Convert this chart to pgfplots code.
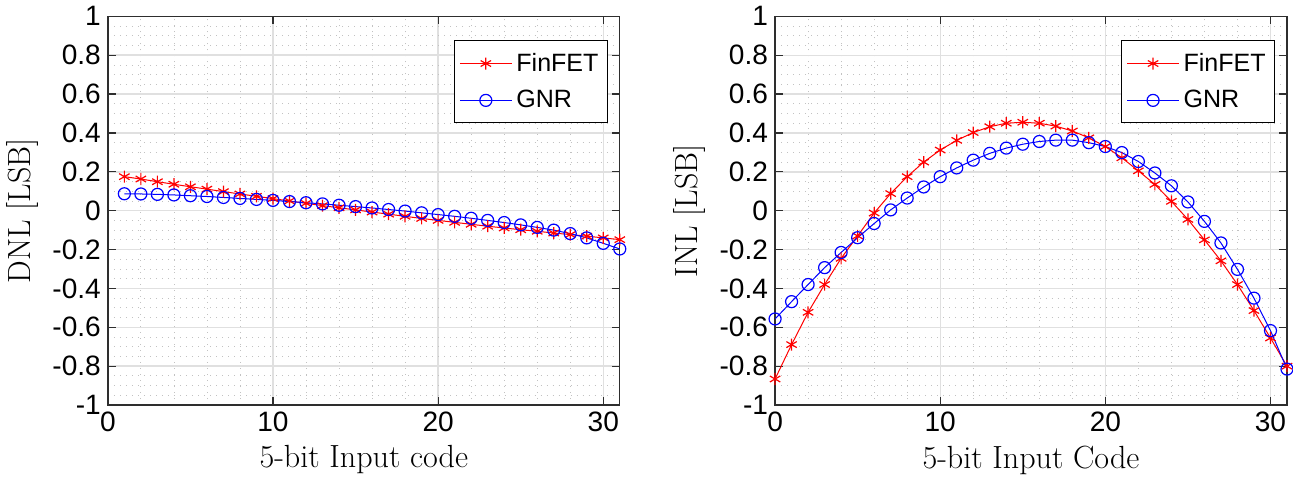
\documentclass[border=0pt]{standalone}
\usepackage{fontspec}
\setsansfont{Liberation Sans}
\usepackage{pgfplots}
\pgfplotsset{compat=1.18}

\definecolor{gridmaj}{gray}{0.88}
\definecolor{gridmin}{gray}{0.76}
\definecolor{axline}{gray}{0.18}

\pgfplotsset{
  matlab/.style={
    width=255.5pt, height=194pt,
    scale only axis,
    xmin=0, xmax=31, ymin=-1, ymax=1,
    xtick={0,10,20,30},
    ytick={-1,-0.8,-0.6,-0.4,-0.2,0,0.2,0.4,0.6,0.8,1},
    minor x tick num=4,
    minor y tick num=3,
    grid=both,
    major grid style={gridmaj, line width=0.7pt},
    minor grid style={gridmin, dash pattern=on 0.5pt off 2.5pt, line width=0.4pt},
    axis line style={axline, line width=0.7pt},
    tick style={axline, line width=0.6pt},
    major tick length=4pt,
    minor tick length=0pt,
    tick align=inside,
    ticklabel style={font=\sffamily\fontsize{14}{16}\selectfont},
    /pgf/number format/assume math mode=true,
    label style={font=\fontsize{16}{18}\selectfont},
    legend style={at={(0.977,0.938)}, anchor=north east,
      font=\sffamily\fontsize{12.5}{15}\selectfont,
      draw=black, line width=0.5pt, inner xsep=2.5pt, inner ysep=4pt,
      row sep=4pt},
    legend cell align=left,
    legend image code/.code={
      \draw[mark repeat=2, mark phase=2, #1]
        plot coordinates {(0pt,0pt) (13pt,0pt) (26pt,0pt)};
    },
    fin/.style={red, line width=0.5pt, mark=asterisk, mark size=3pt, mark options={line width=0.6pt}},
    gnr/.style={blue, line width=0.5pt, mark=o, mark size=3pt, mark options={line width=0.6pt}},
  }
}

\begin{document}
\begin{tikzpicture}

\begin{axis}[matlab, name=dnl,
    xlabel={5-bit Input code},
    ylabel={DNL [LSB]}]
  \addplot[fin] coordinates {
    (1,0.175) (2,0.163) (3,0.149) (4,0.136) (5,0.123) (6,0.111) (7,0.098) (8,0.086)
    (9,0.074) (10,0.062) (11,0.050) (12,0.038) (13,0.026) (14,0.015) (15,0.004)
    (16,-0.007) (17,-0.018) (18,-0.029) (19,-0.040) (20,-0.050) (21,-0.060)
    (22,-0.070) (23,-0.080) (24,-0.089) (25,-0.098) (26,-0.106) (27,-0.115)
    (28,-0.123) (29,-0.131) (30,-0.140) (31,-0.149)
  };
  \addlegendentry{FinFET}
  \addplot[gnr] coordinates {
    (1,0.087) (2,0.086) (3,0.084) (4,0.081) (5,0.077) (6,0.073) (7,0.068) (8,0.063)
    (9,0.058) (10,0.053) (11,0.047) (12,0.041) (13,0.035) (14,0.028) (15,0.021)
    (16,0.014) (17,0.006) (18,-0.002) (19,-0.011) (20,-0.020) (21,-0.029)
    (22,-0.039) (23,-0.050) (24,-0.061) (25,-0.073) (26,-0.086) (27,-0.100)
    (28,-0.118) (29,-0.140) (30,-0.168) (31,-0.197)
  };
  \addlegendentry{GNR}
\end{axis}

\begin{axis}[matlab, at={(333pt,0)},
    xlabel={5-bit Input Code},
    ylabel={INL [LSB]}]
  \addplot[fin] coordinates {
    (0,-0.866) (1,-0.689) (2,-0.523) (3,-0.380) (4,-0.245) (5,-0.130) (6,-0.012)
    (7,0.088) (8,0.175) (9,0.250) (10,0.312) (11,0.362) (12,0.402) (13,0.432)
    (14,0.450) (15,0.455) (16,0.450) (17,0.435) (18,0.410) (19,0.375) (20,0.330)
    (21,0.272) (22,0.205) (23,0.135) (24,0.048) (25,-0.045) (26,-0.150)
    (27,-0.258) (28,-0.380) (29,-0.514) (30,-0.655) (31,-0.800)
  };
  \addlegendentry{FinFET}
  \addplot[gnr] coordinates {
    (0,-0.557) (1,-0.468) (2,-0.380) (3,-0.293) (4,-0.215) (5,-0.139) (6,-0.066)
    (7,0.004) (8,0.065) (9,0.122) (10,0.175) (11,0.220) (12,0.260) (13,0.295)
    (14,0.322) (15,0.342) (16,0.356) (17,0.363) (18,0.363) (19,0.350) (20,0.330)
    (21,0.299) (22,0.253) (23,0.194) (24,0.128) (25,0.045) (26,-0.055)
    (27,-0.166) (28,-0.302) (29,-0.450) (30,-0.617) (31,-0.815)
  };
  \addlegendentry{GNR}
\end{axis}

\end{tikzpicture}
\end{document}
